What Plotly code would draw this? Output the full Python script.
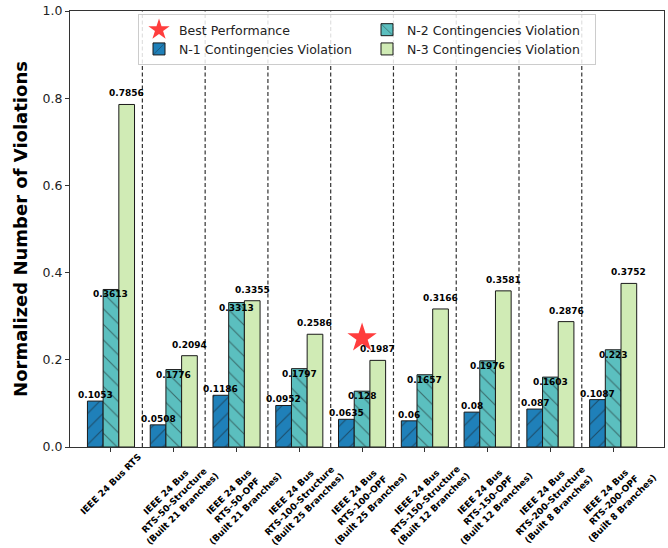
import plotly.graph_objects as go

# Scenario labels (x axis)
categories = [
    "IEEE 24 Bus RTS",
    "IEEE 24 Bus<br>RTS-50-Structure<br>(Built 21 Branches)",
    "IEEE 24 Bus<br>RTS-50-OPF<br>(Built 21 Branches)",
    "IEEE 24 Bus<br>RTS-100-Structure<br>(Built 25 Branches)",
    "IEEE 24 Bus<br>RTS-100-OPF<br>(Built 25 Branches)",
    "IEEE 24 Bus<br>RTS-150-Structure<br>(Built 12 Branches)",
    "IEEE 24 Bus<br>RTS-150-OPF<br>(Built 12 Branches)",
    "IEEE 24 Bus<br>RTS-200-Structure<br>(Built 8 Branches)",
    "IEEE 24 Bus<br>RTS-200-OPF<br>(Built 8 Branches)",
]

# Normalized violation counts per contingency level
n1_values = [0.1053, 0.0508, 0.1186, 0.0952, 0.0635, 0.06, 0.08, 0.087, 0.1087]
n2_values = [0.3613, 0.1776, 0.3313, 0.1797, 0.128, 0.1657, 0.1976, 0.1603, 0.223]
n3_values = [0.7856, 0.2094, 0.3355, 0.2586, 0.1987, 0.3166, 0.3581, 0.2876, 0.3752]

# Best-performing scenario marker
best_index = 4
best_y = 0.25

y_ticks = [0.0, 0.2, 0.4, 0.6, 0.8, 1.0]

FONT = "DejaVu Sans"
x_idx = list(range(len(categories)))

series = [
    ("N-1 Contingencies Violation", n1_values, "#1f80b9", "/", 3, 6),
    ("N-2 Contingencies Violation", n2_values, "#5bbfbf", "\\", 2, -5),
    ("N-3 Contingencies Violation", n3_values, "#d0ebb5", "", 4, 11),
]

fig = go.Figure()

for name, vals, color, shape, rank, _ in series:
    fig.add_trace(go.Bar(
        x=x_idx, y=vals, name=name, legendrank=rank,
        marker=dict(
            color=color,
            line=dict(color="#1a1a1a", width=1),
            pattern=dict(shape=shape, fgcolor="#1a1a1a", size=11, solidity=0.1),
        ),
    ))

fig.add_trace(go.Scatter(
    x=[best_index], y=[best_y], mode="markers", name="Best Performance",
    legendrank=1,
    marker=dict(symbol="star", size=22, color="rgba(255,40,40,0.9)",
                line=dict(width=0)),
))

annotations = []
# Value labels on each bar
for s_i, (name, vals, color, shape, rank, yshift) in enumerate(series):
    offset = (s_i - 1) * 0.25
    for i, v in enumerate(vals):
        annotations.append(dict(
            x=i + offset, y=v, xref="x", yref="y", text=f"<b>{v:g}</b>",
            showarrow=False, yanchor="middle", xanchor="center", yshift=yshift,
            font=dict(family=FONT, size=9, color="black"),
        ))

# Rotated category labels
for i, label in enumerate(categories):
    center_px = 484 if i == 0 else 500
    annotations.append(dict(
        x=i, y=-(center_px - 447) / 436, xref="x", yref="paper",
        text=f"<b>{label}</b>", showarrow=False, textangle=-45,
        xanchor="center", yanchor="middle", align="center",
        font=dict(family=FONT, size=9, color="black"),
    ))

# Dashed separators between scenario groups
shapes = [
    dict(type="line", xref="x", yref="paper", x0=i + 0.5, x1=i + 0.5, y0=0, y1=1,
         line=dict(color="#333333", width=1.2, dash="4px,2.5px"), layer="above")
    for i in range(len(categories) - 1)
]

fig.update_layout(
    width=668, height=548,
    margin=dict(l=70, r=4, t=11, b=101),
    paper_bgcolor="white", plot_bgcolor="white",
    barmode="group", bargap=0.25, bargroupgap=0,
    font=dict(family=FONT, color="#222222"),
    annotations=annotations, shapes=shapes,
    legend=dict(
        orientation="h", x=0.1145, y=0.993, xanchor="left", yanchor="top",
        entrywidth=183, font=dict(family=FONT, size=12.5, color="#222222"),
        bgcolor="rgba(255,255,255,0.85)", bordercolor="#cccccc", borderwidth=1,
        tracegroupgap=0,
    ),
    showlegend=True,
)

fig.update_xaxes(
    range=[-0.653, 8.81], tickvals=x_idx, ticktext=[""] * len(x_idx),
    ticks="outside", ticklen=4, tickcolor="#333333",
    showline=True, linecolor="#333333", linewidth=1, mirror=True,
    showgrid=False, zeroline=False,
)
fig.update_yaxes(
    range=[0, 1], tickvals=y_ticks, tickformat=".1f",
    ticks="outside", ticklen=4, tickcolor="#333333",
    tickfont=dict(family=FONT, size=12.5, color="#222222"),
    showline=True, linecolor="#333333", linewidth=1, mirror=True,
    showgrid=False, zeroline=False,
    title=dict(text="<b>Normalized Number of Violations</b>", standoff=10,
               font=dict(family=FONT, size=18, color="black")),
)

fig.write_html("out.html")
